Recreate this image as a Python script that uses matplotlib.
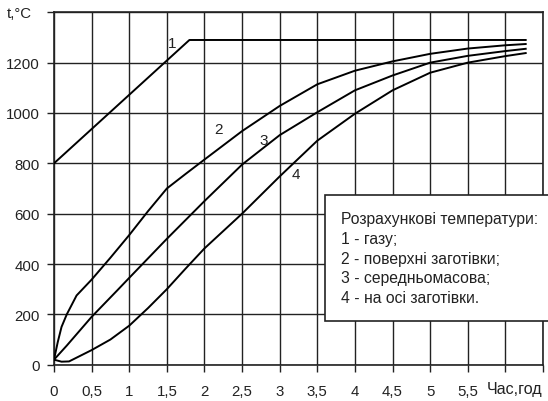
import matplotlib
matplotlib.use("Agg")
import matplotlib.pyplot as plt
from matplotlib.patches import Rectangle

plt.rcParams['font.family'] = ['Liberation Sans', 'DejaVu Sans']

# Time, hours; temperature, °C
x_gas = [0, 1.8, 6.27]
t_gas = [800, 1290, 1290]

x_surf = [0, 0.05, 0.1, 0.17, 0.3, 0.5, 0.75, 1.0, 1.25, 1.5, 1.75, 2.0, 2.5, 3.0, 3.5, 4.0, 4.5, 5.0, 5.5, 6.0, 6.27]
t_surf = [20, 90, 150, 200, 275, 338, 425, 515, 610, 700, 758, 815, 928, 1028, 1114, 1168, 1205, 1235, 1256, 1269, 1274]

x_mean = [0, 0.17, 0.5, 0.84, 1.0, 1.5, 2.0, 2.5, 3.0, 3.5, 4.0, 4.5, 5.0, 5.5, 6.0, 6.27]
t_mean = [20, 76, 190, 295, 345, 500, 650, 795, 912, 1003, 1090, 1149, 1200, 1227, 1246, 1255]

x_axis = [0, 0.1, 0.2, 0.5, 0.75, 1.0, 1.25, 1.5, 1.75, 2.0, 2.5, 3.0, 3.5, 4.0, 4.5, 5.0, 5.5, 6.0, 6.27]
t_axis = [20, 12, 13, 58, 100, 155, 225, 300, 382, 462, 600, 748, 890, 997, 1090, 1160, 1200, 1226, 1238]

x_ticks = [0, 0.5, 1, 1.5, 2, 2.5, 3, 3.5, 4, 4.5, 5, 5.5, 6, 6.5]
x_labels = ['0', '0,5', '1', '1,5', '2', '2,5', '3', '3,5', '4', '4,5', '5', '5,5', '', '']
y_ticks = [0, 200, 400, 600, 800, 1000, 1200, 1400]
y_labels = ['0', '200', '400', '600', '800', '1000', '1200', '']

curve_labels = ['1', '2', '3', '4']
label_x = [1.57, 2.19, 2.79, 3.22]
label_y = [1278, 937, 893, 758]

legend_lines = ['Розрахункові температури:', '1 - газу;', '2 - поверхні заготівки;',
                '3 - середньомасова;', '4 - на осі заготівки.']

W, H = 548, 402
INK = '#222222'
fig = plt.figure(figsize=(W / 100, H / 100), dpi=100)
ax = fig.add_axes([54 / W, 1 - 365.7 / H, (543 - 54) / W, (365.7 - 13.3) / H])

for xs, ts in [(x_gas, t_gas), (x_surf, t_surf), (x_mean, t_mean), (x_axis, t_axis)]:
    ax.plot(xs, ts, color='black', lw=1.4, zorder=3, solid_joinstyle='round')

for s, lx, ly in zip(curve_labels, label_x, label_y):
    ax.text(lx, ly, s, fontsize=11, ha='center', va='center', color=INK)

ax.set_xlim(0, 6.5)
ax.set_ylim(0, 1400)
ax.set_xticks(x_ticks)
ax.set_xticklabels(x_labels)
ax.set_yticks(y_ticks)
ax.set_yticklabels(y_labels)
ax.tick_params(axis='both', direction='out', length=5, width=1.0, color=INK,
               labelsize=10.8, labelcolor=INK)
ax.tick_params(axis='x', pad=9)
ax.tick_params(axis='y', pad=5)
ax.grid(True, color=INK, lw=1.0, zorder=1)
ax.set_axisbelow(True)
for sp in ax.spines.values():
    sp.set_color(INK)
    sp.set_linewidth(1.2)

# Axis captions
fig.text(7 / W, 1 - 13.5 / H, 't,°C', fontsize=10.8, ha='left', va='center', color=INK)
fig.text(487 / W, 1 - 390 / H, 'Час,год', fontsize=11.6, ha='left', va='center', color=INK)

# Legend box
box = Rectangle((325 / W, 1 - 322 / H), (560 - 325) / W, (322 - 196) / H,
                transform=fig.transFigure, facecolor='white', edgecolor=INK,
                lw=1.2, zorder=5, clip_on=False)
fig.patches.append(box)
for i, line in enumerate(legend_lines):
    fig.text(341 / W, 1 - (220 + i * 19.6) / H, line, fontsize=11.3, ha='left', va='center',
             color=INK, zorder=6)

fig.savefig('out.png', dpi=100)
